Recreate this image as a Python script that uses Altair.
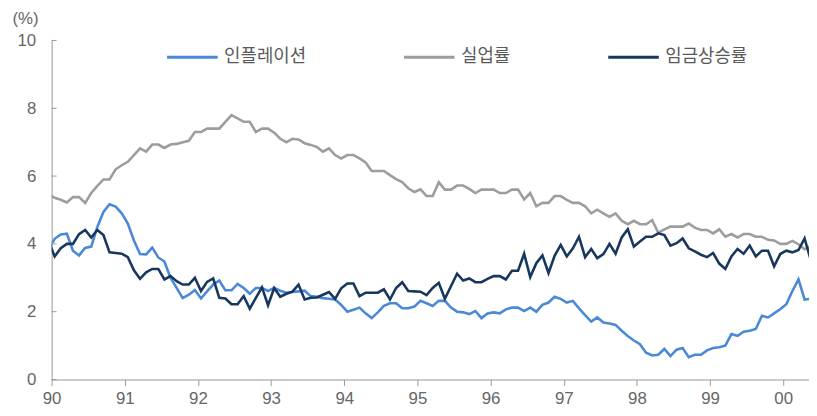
import altair as alt
import pandas as pd

# Monthly data, Dec 1989 .. May 2000 (plotted at mid-month)
start_year = 1989
start_month = 12

inflation = [3.85,
    4.15, 4.28, 4.30, 3.80, 3.66, 3.88, 3.92, 4.50, 4.94, 5.17, 5.10, 4.90,
    4.60, 4.10, 3.70, 3.69, 3.89, 3.60, 3.48, 3.00, 2.70, 2.40, 2.50, 2.64,
    2.39, 2.60, 2.80, 2.92, 2.63, 2.63, 2.82, 2.70, 2.53, 2.70, 2.70, 2.61,
    2.70, 2.62, 2.56, 2.58, 2.60, 2.62, 2.46, 2.44, 2.40, 2.38, 2.36, 2.20,
    2.00, 2.06, 2.12, 1.95, 1.81, 1.98, 2.17, 2.25, 2.25, 2.10, 2.10, 2.15,
    2.32, 2.25, 2.17, 2.32, 2.32, 2.12, 2.00, 1.98, 1.93, 2.02, 1.81, 1.95,
    1.98, 1.95, 2.07, 2.12, 2.12, 2.02, 2.12, 2.00, 2.20, 2.27, 2.44, 2.38,
    2.27, 2.32, 2.10, 1.90, 1.71, 1.83, 1.68, 1.65, 1.61, 1.44, 1.28, 1.15,
    1.04, 0.79, 0.71, 0.73, 0.90, 0.69, 0.88, 0.93, 0.66, 0.73, 0.73, 0.86,
    0.93, 0.95, 1.00, 1.34, 1.29, 1.41, 1.44, 1.49, 1.88, 1.83, 1.95, 2.07,
    2.22, 2.61, 2.95, 2.36, 2.38]

unemployment = [5.45,
    5.36, 5.30, 5.22, 5.38, 5.38, 5.21, 5.50, 5.71, 5.90, 5.90, 6.20, 6.32,
    6.42, 6.62, 6.82, 6.72, 6.93, 6.93, 6.83, 6.93, 6.95, 7.00, 7.04, 7.30,
    7.30, 7.40, 7.40, 7.40, 7.60, 7.80, 7.70, 7.60, 7.60, 7.30, 7.40, 7.40,
    7.28, 7.10, 7.00, 7.10, 7.08, 6.97, 6.92, 6.86, 6.72, 6.82, 6.62, 6.52,
    6.62, 6.62, 6.52, 6.40, 6.15, 6.15, 6.15, 6.03, 5.91, 5.82, 5.64, 5.53,
    5.61, 5.41, 5.41, 5.82, 5.60, 5.60, 5.72, 5.72, 5.62, 5.50, 5.60, 5.60,
    5.60, 5.50, 5.50, 5.60, 5.60, 5.31, 5.50, 5.11, 5.21, 5.21, 5.41, 5.41,
    5.30, 5.21, 5.21, 5.11, 4.90, 5.01, 4.90, 4.80, 4.90, 4.68, 4.58, 4.68,
    4.58, 4.58, 4.70, 4.33, 4.43, 4.51, 4.51, 4.51, 4.60, 4.48, 4.41, 4.41,
    4.31, 4.43, 4.21, 4.29, 4.19, 4.29, 4.29, 4.21, 4.21, 4.12, 4.10, 4.00,
    4.00, 4.09, 3.99, 3.84, 3.94]

wages = [4.08,
    3.63, 3.87, 4.00, 4.00, 4.29, 4.41, 4.19, 4.41, 4.26, 3.75, 3.73, 3.71,
    3.61, 3.22, 2.97, 3.16, 3.26, 3.26, 2.95, 3.05, 2.90, 2.80, 2.80, 3.00,
    2.61, 2.88, 2.98, 2.41, 2.39, 2.22, 2.22, 2.46, 2.09, 2.41, 2.72, 2.19,
    2.70, 2.44, 2.53, 2.59, 2.80, 2.36, 2.41, 2.42, 2.50, 2.58, 2.38, 2.69,
    2.83, 2.83, 2.46, 2.56, 2.56, 2.56, 2.66, 2.36, 2.70, 2.87, 2.61, 2.60,
    2.59, 2.49, 2.70, 2.85, 2.38, 2.75, 3.12, 2.92, 2.98, 2.87, 2.87, 2.97,
    3.05, 3.05, 2.95, 3.21, 3.21, 3.71, 3.02, 3.43, 3.66, 3.14, 3.65, 3.97,
    3.63, 3.87, 4.21, 3.61, 3.85, 3.58, 3.70, 4.00, 3.71, 4.19, 4.43, 3.92,
    4.07, 4.21, 4.21, 4.31, 4.26, 3.95, 4.02, 4.16, 3.87, 3.78, 3.68, 3.61,
    3.73, 3.42, 3.26, 3.63, 3.85, 3.71, 3.95, 3.63, 3.80, 3.80, 3.34, 3.70,
    3.80, 3.75, 3.82, 4.16, 3.53]

series_names = ["인플레이션", "실업률", "임금상승률"]
series_colors = ["#4a89d6", "#9d9d9d", "#17375e"]
year_ticks = list(range(1990, 2001))
y_ticks = [0, 2, 4, 6, 8, 10]

rows = []
for name, arr in zip(series_names, [inflation, unemployment, wages]):
    for i, v in enumerate(arr):
        mo = (start_month - 1) + i
        rows.append({"t": start_year + (mo + 0.5) / 12.0, "value": v, "series": name})
df = pd.DataFrame(rows)
tick_df = pd.DataFrame({"value": y_ticks})

label_color = "#666666"
axis_color = "#999999"

y_scale = alt.Scale(domain=[0, 10], nice=False)
y_axis = alt.Axis(values=y_ticks, grid=False, ticks=False, tickSize=0,
                  labelPadding=16, labelFlush=False,
                  labelFontSize=17, labelColor=label_color,
                  domainColor=axis_color,
                  title="(%)", titleAngle=0, titleAlign="left",
                  titleBaseline="alphabetic", titleX=-40, titleY=-17,
                  titleFontSize=17, titleFontWeight="normal",
                  titleColor=label_color)

lines = alt.Chart(df).mark_line(strokeWidth=2.6, clip=True).encode(
    x=alt.X("t:Q",
            scale=alt.Scale(domain=[1990, 2000.352], nice=False, zero=False),
            axis=alt.Axis(values=year_ticks, title=None, grid=False,
                          labelExpr="slice(toString(datum.value), 2)",
                          tickSize=6, labelPadding=5, labelFlush=False,
                          labelFontSize=17, labelColor=label_color,
                          domainColor=axis_color, tickColor=axis_color)),
    y=alt.Y("value:Q", scale=y_scale, axis=y_axis),
    color=alt.Color("series:N",
                    scale=alt.Scale(domain=series_names, range=series_colors),
                    legend=alt.Legend(title=None, orient="none", legendX=115, legendY=-10,
                                      direction="horizontal", symbolType="stroke",
                                      symbolSize=2600, symbolStrokeWidth=3,
                                      labelFontSize=18, labelFont="Noto Sans CJK KR",
                                      labelColor="#595959", columnPadding=92,
                                      labelOffset=5, padding=0)),
)

yticks = alt.Chart(tick_df).mark_rule(color=axis_color, strokeWidth=1).encode(
    y=alt.Y("value:Q", scale=y_scale, axis=y_axis),
    x=alt.value(0),
    x2=alt.value(5),
)

chart = alt.layer(lines, yticks).properties(
    width=764, height=342,
    padding={"left": 4, "top": 0, "right": 0, "bottom": 0},
).configure_view(stroke=None).configure_axis(
    labelFont="Liberation Sans", titleFont="Liberation Sans"
)

chart.save("out.html", embed_options={"renderer": "svg", "actions": False})
